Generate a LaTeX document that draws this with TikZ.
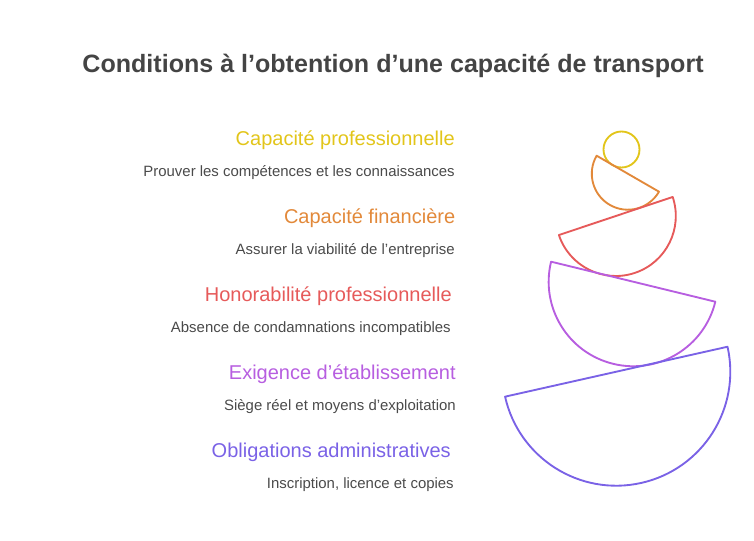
\documentclass[tikz,border=0pt]{standalone}
\usepackage{fontspec}
\setmainfont{Liberation Sans}
\usepackage{tikz}

\definecolor{titlegray}{HTML}{444444}
\definecolor{descgray}{HTML}{4A4A4A}
\definecolor{cyellow}{HTML}{E2C51A}
\definecolor{corange}{HTML}{E2893A}
\definecolor{cred}{HTML}{E65A5A}
\definecolor{cpurple}{HTML}{B75EE0}
\definecolor{cviolet}{HTML}{7A62E6}

\begin{document}
\begin{tikzpicture}[
                x=0.75pt, y=-0.75pt,
                title/.style={font=\bfseries\fontsize{18.8pt}{22pt}\selectfont, text=titlegray},
                heading/.style={anchor=east, inner sep=0pt, font=\fontsize{15pt}{18pt}\selectfont},
                desc/.style={anchor=east, inner sep=0pt, font=\fontsize{11.2pt}{14pt}\selectfont, text=descgray},
                halfdisc/.style={line width=1.4pt, line join=round}]

            \useasboundingbox (0,0) rectangle (754,540);

            % Titre
            \node[title] (title) at (393,66) {Conditions à l’obtention d’une capacité de transport};

            % Conditions
            \node[heading, text=cyellow] (cap) at (455,140.5) {Capacité professionnelle};
            \node[desc] (capdesc) at (455,173) {Prouver les compétences et les connaissances};

            \node[heading, text=corange] (fin) at (455.5,218.5) {Capacité financière};
            \node[desc] (findesc) at (455,251) {Assurer la viabilité de l’entreprise};

            \node[heading, text=cred] (hon) at (452,296.5) {Honorabilité professionnelle};
            \node[desc] (hondesc) at (451,329) {Absence de condamnations incompatibles};

            \node[heading, text=cpurple] (etab) at (456,374.5) {Exigence d’établissement};
            \node[desc] (etabdesc) at (456,407) {Siège réel et moyens d’exploitation};

            \node[heading, text=cviolet] (adm) at (451,452.5) {Obligations administratives};
            \node[desc] (admdesc) at (454,485) {Inscription, licence et copies};

            % Pile de formes
            \draw[halfdisc, cyellow] (621.5,149.5) circle[radius=13.5pt];
            \foreach \cx/\cy/\a/\r/\c in {627.8/173.7/-30/27/corange,
                                            615.8/216/18.5/45/cred,
                                            633.2/281.7/-13.7/63.4/cpurple,
                                            616.3/371.7/12.65/85.5/cviolet}
                \draw[halfdisc, \c] (\cx,\cy) ++(\a:\r pt) arc[start angle=\a, end angle=\a-180, radius=\r pt] -- cycle;

        \end{tikzpicture}
\end{document}
